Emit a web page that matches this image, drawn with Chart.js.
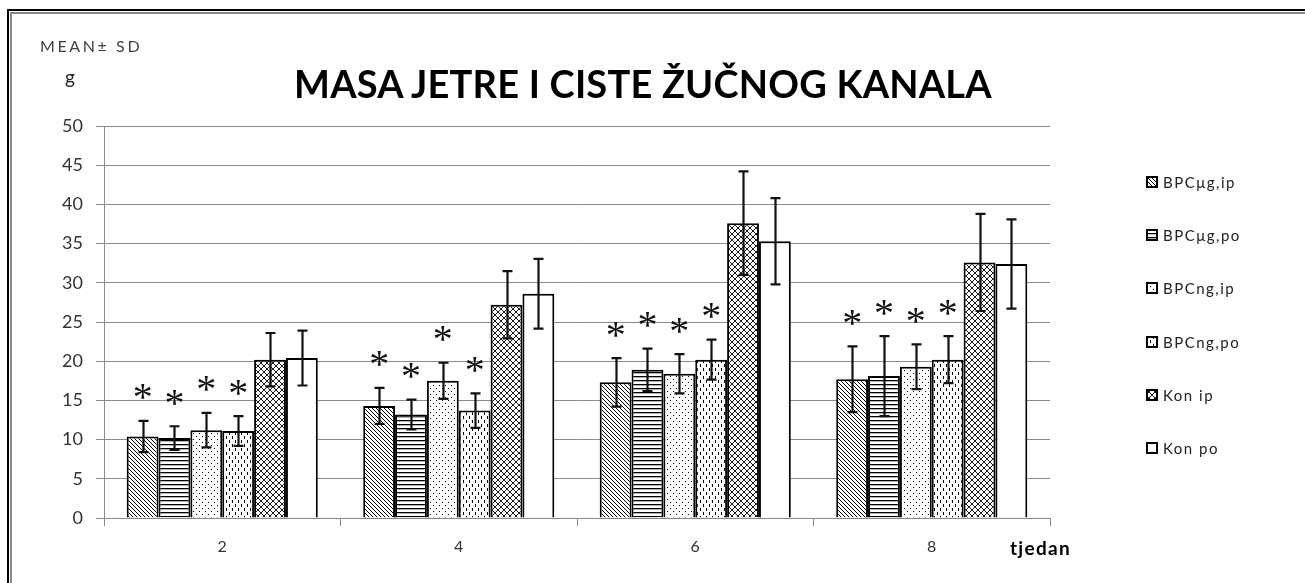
<!DOCTYPE html>
<html>
<head>
<meta charset="utf-8">
<script src="https://cdn.jsdelivr.net/npm/chart.js@4"></script>
<style>
  html, body { margin: 0; padding: 0; background: #fff; }
  #wrap { position: relative; width: 1305px; height: 583px; overflow: hidden; background: #fff; }
  #frame { position: absolute; left: 7px; top: 9px; width: 1400px; height: 700px; border: 2px solid #000; }
  #frame2 { position: absolute; left: 1px; top: 1px; right: 1px; bottom: 1px; border: 2px solid #8a8a8a; }
  canvas { position: absolute; left: 0; top: 0; }
  .txt { position: absolute; white-space: nowrap; font-family: Lato, "Open Sans", sans-serif; }
  #title { left: 0; width: 1286px; text-align: center; top: 60px; font-size: 38px; font-weight: bold; color: #000; letter-spacing: 0.2px; }
  #mean { left: 40px; top: 36px; font-size: 16px; color: #404040; letter-spacing: 2.6px; }
  #unit { left: 65px; top: 65px; font-size: 19px; color: #222; }
  #xlab { left: 1010px; top: 536px; font-size: 19px; font-weight: bold; color: #000; letter-spacing: 1.3px; }
  #legend { position: absolute; left: 1146px; top: 0; }
  .li { position: absolute; left: 0; height: 16px; display: flex; align-items: center; font-family: Lato, sans-serif; font-size: 15px; color: #222; white-space: nowrap; letter-spacing: 1.5px; }
  .li canvas { position: static; margin-right: 5px; }
</style>
</head>
<body>
<div id="wrap">
  <div id="frame"><div id="frame2"></div></div>
  <canvas id="c" width="1305" height="583"></canvas>
  <div class="txt" id="mean">MEAN± SD</div>
  <div class="txt" id="unit">g</div>
  <div class="txt" id="title">MASA JETRE I CISTE ŽUČNOG KANALA</div>
  <div class="txt" id="xlab">tjedan</div>
  <div id="legend"></div>
</div>
<script>
// ---- data ----
const categories = ['2', '4', '6', '8'];
const seriesNames = ['BPCμg,ip', 'BPCμg,po', 'BPCng,ip', 'BPCng,po', 'Kon ip', 'Kon po'];
const bpcUgIp   = [10.4, 14.3, 17.3, 17.7];
const bpcUgPo   = [10.2, 13.2, 18.9, 18.1];
const bpcNgIp   = [11.2, 17.5, 18.4, 19.3];
const bpcNgPo   = [11.1, 13.7, 20.2, 20.2];
const konIp     = [20.2, 27.2, 37.6, 32.6];
const konPo     = [20.4, 28.6, 35.3, 32.4];
const sdBpcUgIp = [2.0, 2.3, 3.1, 4.2];
const sdBpcUgPo = [1.5, 1.9, 2.7, 5.1];
const sdBpcNgIp = [2.2, 2.3, 2.5, 2.85];
const sdBpcNgPo = [1.9, 2.2, 2.55, 3.0];
const sdKonIp   = [3.4, 4.3, 6.6, 6.2];
const sdKonPo   = [3.5, 4.45, 5.5, 5.7];
const significant = [true, true, true, true, false, false];
const yTicks = [0, 5, 10, 15, 20, 25, 30, 35, 40, 45, 50];

// ---- patterns ----
function makePattern(w, h, draw) {
  const c = document.createElement('canvas');
  c.width = w; c.height = h;
  const g = c.getContext('2d');
  g.fillStyle = '#fff'; g.fillRect(0, 0, w, h);
  g.strokeStyle = '#000'; g.fillStyle = '#000';
  draw(g, w, h);
  return c;
}
const tiles = [
  makePattern(4, 4, (g, w, h) => { // diagonal "\"
    g.lineWidth = 1;
    g.beginPath();
    g.moveTo(-1, -1); g.lineTo(w + 1, h + 1);
    g.moveTo(-1, h - 1); g.lineTo(1, h + 1);
    g.moveTo(w - 1, -1); g.lineTo(w + 1, 1);
    g.stroke();
  }),
  makePattern(4, 4, (g, w, h) => { g.fillRect(0, 0, w, 1.3); }), // horizontal
  makePattern(6, 6, (g) => { g.fillRect(1, 1, 1, 1); g.fillRect(4, 4, 1, 1); }), // dots
  makePattern(6, 8, (g) => { g.fillRect(1, 0, 1, 3); g.fillRect(4, 4, 1, 3); }), // dashed vertical
  makePattern(6, 6, (g, w, h) => { // crosshatch
    g.lineWidth = 0.9;
    g.beginPath();
    g.moveTo(0, 0); g.lineTo(w, h);
    g.moveTo(w, 0); g.lineTo(0, h);
    g.stroke();
  }),
  makePattern(2, 2, () => {}) // white
];
const ctx = document.getElementById('c').getContext('2d');
const patterns = tiles.map(t => ctx.createPattern(t, 'repeat'));

const values = [bpcUgIp, bpcUgPo, bpcNgIp, bpcNgPo, konIp, konPo];
const sds = [sdBpcUgIp, sdBpcUgPo, sdBpcNgIp, sdBpcNgPo, sdKonIp, sdKonPo];

const datasets = seriesNames.map((name, i) => ({
  label: name,
  data: values[i],
  sd: sds[i],
  significant: significant[i],
  backgroundColor: patterns[i],
  borderColor: '#000',
  borderWidth: 2,
  borderSkipped: 'bottom',
  categoryPercentage: 0.808,
  barPercentage: 1.0
}));

const errorBars = {
  id: 'errorBars',
  afterDatasetsDraw(chart) {
    const c = chart.ctx;
    const ys = chart.scales.y;
    c.save();
    chart.data.datasets.forEach((ds, di) => {
      const meta = chart.getDatasetMeta(di);
      meta.data.forEach((bar, j) => {
        const v = ds.data[j], s = ds.sd[j];
        const yt = ys.getPixelForValue(v + s);
        const yb = ys.getPixelForValue(v - s);
        const x = Math.round(bar.x) + 0.5;
        c.strokeStyle = '#111';
        c.lineWidth = 2.2;
        c.beginPath();
        c.moveTo(x, yt); c.lineTo(x, yb);
        c.moveTo(x - 5, yt); c.lineTo(x + 5, yt);
        c.moveTo(x - 5, yb); c.lineTo(x + 5, yb);
        c.stroke();
        if (ds.significant) {
          c.font = '40px "Liberation Serif", serif';
          c.fillStyle = '#111';
          c.textAlign = 'center';
          c.textBaseline = 'alphabetic';
          const m = c.measureText('*');
          const cy = yt - 29;
          const off = (m.actualBoundingBoxAscent - m.actualBoundingBoxDescent) / 2;
          c.fillText('*', bar.x, cy + off);
        }
      });
    });
    c.restore();
  }
};

const chart = new Chart(ctx, {
  type: 'bar',
  data: { labels: categories, datasets },
  options: {
    responsive: false,
    animation: false,
    layout: { padding: { left: 0, top: 126, right: 255, bottom: 20 } },
    plugins: { legend: { display: false }, tooltip: { enabled: false }, title: { display: false } },
    scales: {
      x: {
        offset: true,
        grid: { display: true, offset: true, drawOnChartArea: false, drawTicks: true, tickLength: 8, color: '#888', lineWidth: 1 },
        border: { display: true, color: '#888', width: 1 },
        ticks: { color: '#333', font: { family: 'Lato', size: 16 }, padding: 11 },
        afterFit(s) { s.height = 45; }
      },
      y: {
        min: 0, max: 50,
        afterBuildTicks(s) { s.ticks = yTicks.map(v => ({ value: v })); },
        grid: { color: '#8a8a8a', lineWidth: 1, tickLength: 8 },
        border: { display: true, color: '#8a8a8a', width: 1 },
        ticks: { color: '#333', font: { family: 'Lato', size: 18 }, padding: 13 },
        afterFit(s) { s.width = 104; }
      }
    }
  },
  plugins: [errorBars]
});

// ---- legend (built from datasets) ----
const legendTops = [182, 235, 288, 342, 395, 448];
const lg = document.getElementById('legend');
chart.data.datasets.forEach((ds, i) => {
  const item = document.createElement('div');
  item.className = 'li';
  item.style.top = (legendTops[i] - 8) + 'px';
  const sw = document.createElement('canvas');
  sw.width = 12; sw.height = 12;
  const g = sw.getContext('2d');
  g.fillStyle = g.createPattern(tiles[i], 'repeat');
  g.fillRect(0, 0, 12, 12);
  g.strokeStyle = '#000'; g.lineWidth = 2;
  g.strokeRect(1, 1, 10, 10);
  item.appendChild(sw);
  const t = document.createElement('span');
  t.textContent = ds.label;
  item.appendChild(t);
  lg.appendChild(item);
});
</script>
</body>
</html>
